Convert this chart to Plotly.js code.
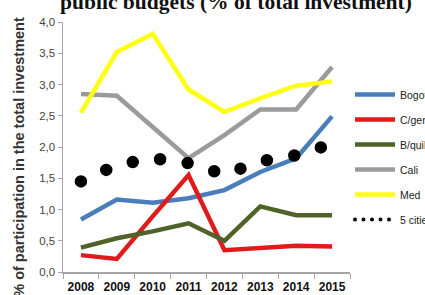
<!DOCTYPE html>
<html>
<head>
<meta charset="utf-8">
<script src="https://cdn.plot.ly/plotly-3.0.1.min.js"></script>
<style>
  html, body { margin: 0; padding: 0; background: #fff; }
  #chart { width: 425px; height: 295px; }
  .scatterlayer .trace:last-child path.js-line { stroke-linecap: round !important; }
  .legend .groups:last-child path.js-line { stroke-linecap: round !important; stroke-width: 4px !important; stroke-dasharray: 0px, 8.5px !important; }
</style>
</head>
<body>
<div id="chart"></div>
<script>
const years = ['2008', '2009', '2010', '2011', '2012', '2013', '2014', '2015'];
const bogota = [0.84, 1.16, 1.11, 1.18, 1.31, 1.60, 1.82, 2.49];
const cartagena = [0.27, 0.21, 0.89, 1.55, 0.35, 0.38, 0.42, 0.41];
const barranquilla = [0.39, 0.54, 0.65, 0.78, 0.50, 1.05, 0.91, 0.91];
const cali = [2.85, 2.82, 2.32, 1.82, 2.19, 2.60, 2.60, 3.28];
const medellin = [2.55, 3.52, 3.81, 2.92, 2.56, 2.78, 2.98, 3.05];
const fiveCities = [1.45, 1.71, 1.82, 1.74, 1.56, 1.77, 1.87, 2.05];

const seriesNames = ['Bogotá', 'C/gena', 'B/quilla', 'Cali', 'Med', '5 cities'];
const seriesColors = ['#4a7ebb', '#e01b1b', '#4f6228', '#9b9b9b', '#ffff10', '#000000'];
const seriesData = [bogota, cartagena, barranquilla, cali, medellin, fiveCities];

const traces = seriesData.map((vals, i) => ({
  type: 'scatter',
  mode: 'lines',
  x: years,
  y: vals,
  name: seriesNames[i],
  legendgroup: 'g' + i,
  line: i === 5
    ? { color: seriesColors[i], width: 12.5, dash: '0px,27.8px' }
    : { color: seriesColors[i], width: 4.5 },
  hoverinfo: 'skip'
}));

const layout = {
  width: 425,
  height: 295,
  margin: { l: 63, r: 70, t: 22, b: 23, pad: 0 },
  paper_bgcolor: '#ffffff',
  plot_bgcolor: '#ffffff',
  separators: ',.',
  font: { family: 'Liberation Sans, Arial, sans-serif', color: '#222' },
  title: {
    text: 'public budgets (% of total investment)',
    font: { family: 'Liberation Serif, Times New Roman, serif', size: 21.5, color: '#111', weight: 'bold' },
    x: 236 / 425, xanchor: 'center',
    yref: 'container', y: 1 - 9.3 / 295, yanchor: 'bottom'
  },
  xaxis: {
    type: 'category',
    range: [-0.5, 7.5],
    showgrid: false,
    zeroline: false,
    showline: true,
    linecolor: '#a6a6a6',
    linewidth: 1.5,
    ticks: 'outside',
    tickson: 'boundaries',
    ticklen: 5,
    tickcolor: '#a6a6a6',
    tickangle: 0,
    ticklabelstandoff: 3,
    tickfont: { size: 12, color: '#111', weight: 'bold' },
    fixedrange: true
  },
  yaxis: {
    range: [0, 4],
    dtick: 0.5,
    tickformat: '.1f',
    showgrid: false,
    zeroline: false,
    showline: true,
    linecolor: '#a6a6a6',
    linewidth: 1.5,
    ticks: 'outside',
    ticklen: 4,
    tickcolor: '#a6a6a6',
    tickfont: { size: 11.5, color: '#444' },
    fixedrange: true
  },
  annotations: [{
    text: '% of participation in the total investment',
    xref: 'paper', yref: 'paper',
    x: (18 - 63) / 292, y: (272 - 157) / 250,
    xanchor: 'center', yanchor: 'middle',
    textangle: -90,
    showarrow: false,
    font: { size: 14.5, color: '#333', weight: 'bold' }
  }],
  showlegend: true,
  legend: {
    xref: 'container', yref: 'container',
    x: 350 / 425, xanchor: 'left',
    y: 1 - 80 / 295, yanchor: 'top',
    traceorder: 'grouped',
    tracegroupgap: 6,
    itemwidth: 40,
    font: { size: 10.5, color: '#222' },
    bgcolor: 'rgba(0,0,0,0)'
  }
};

Plotly.newPlot('chart', traces, layout, { displayModeBar: false, staticPlot: true });
</script>
</body>
</html>
